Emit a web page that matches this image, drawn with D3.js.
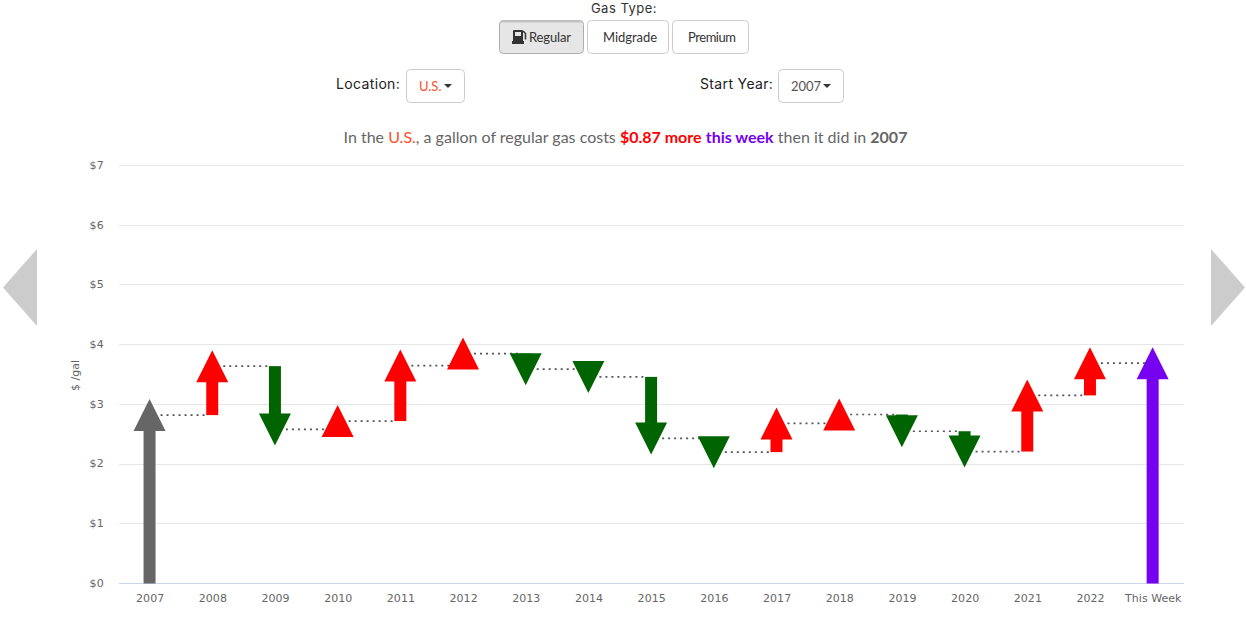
<!DOCTYPE html>
<html>
<head>
<meta charset="utf-8">
<script src="https://cdnjs.cloudflare.com/ajax/libs/d3/7.8.5/d3.min.js"></script>
<style>
html, body { margin: 0; padding: 0; background: #fff; overflow: hidden; }
svg { display: block; }
text { font-family: "Open Sans", sans-serif; }
</style>
</head>
<body>
<svg id="chart"></svg>
<script>
var years = ["2007","2008","2009","2010","2011","2012","2013","2014","2015","2016","2017","2018","2019","2020","2021","2022","This Week"];
var prices = [2.82,3.64,2.58,2.72,3.65,3.85,3.59,3.46,2.43,2.20,2.68,2.83,2.55,2.21,3.15,3.69,3.69];
var yTicks = [0,1,2,3,4,5,6,7];

var screen = {width: 1246, height: 638};
var margins = {top: 165.5, right: 62, bottom: 54.5, left: 119};
var width = screen.width - margins.left - margins.right;
var height = screen.height - margins.top - margins.bottom;

var svg = d3.select("#chart").attr("width", screen.width).attr("height", screen.height);

// controls at the top
var addButton = function(x, y, w, h, active)
{
    svg.append("rect")
        .attr("x", x + 0.5).attr("y", y + 0.5)
        .attr("width", w - 1).attr("height", h - 1)
        .attr("rx", 4)
        .attr("fill", active ? "#e6e6e6" : "#fff")
        .attr("stroke", active ? "#adadad" : "#ccc");
    if (active)
    {
        svg.append("path")
            .attr("d", "M" + (x + 2) + "," + (y + 1.5) + "h" + (w - 4))
            .attr("stroke", "#c4c4c4")
            .attr("stroke-width", 2);
    }
}
var addText = function(txt, x, y, size, color, anchor, family)
{
    return svg.append("text")
        .attr("x", x).attr("y", y)
        .attr("font-size", size)
        .attr("fill", color)
        .attr("text-anchor", anchor || "start")
        .style("font-family", family || null)
        .text(txt);
}

addText("Gas Type:", 624, 12.5, 13, "#333", "middle", "Inter").style("letter-spacing", "0.5px");
addButton(499, 20, 85, 34, true);
addButton(587, 20, 82, 34, false);
addButton(672, 20, 77, 34, false);
addText("Regular", 529, 42, 13, "#333", "start", "Lato").attr("textLength", 42);
addText("Midgrade", 630, 42, 13, "#333", "middle", "Lato").attr("textLength", 54);
addText("Premium", 712, 42, 13, "#333", "middle", "Lato").attr("textLength", 48);

// pump icon
svg.append("path")
    .attr("fill-rule", "evenodd")
    .attr("d", "M514 30h8a1 1 0 0 1 1 1v10h-10v-10a1 1 0 0 1 1-1z M515 32v4h6v-4z M512 41h12v3h-12z")
    .attr("fill", "#333");
svg.append("path")
    .attr("d", "M523 31l2.5 2.5v6")
    .attr("fill", "none")
    .attr("stroke", "#333")
    .attr("stroke-width", 1.5);

addText("Location:", 336, 89, 14, "#222", "start", "Inter").style("letter-spacing", "0.35px");
addButton(406, 69, 59, 34, false);
addText("U.S.", 419, 91, 13, "#ff4f26", "start", "Lato");
addText("Start Year:", 700, 89, 14, "#222", "start", "Inter").style("letter-spacing", "0.35px");
addButton(778, 69, 66, 34, false);
addText("2007", 791, 91, 13, "#555", "start", "Lato");

[448, 827].forEach(function(cx)
{
    svg.append("path")
        .attr("d", "M-4,-2L4,-2L0,2Z")
        .attr("transform", "translate(" + cx + ",86)")
        .attr("fill", "#333");
});

// headline
var head = svg.append("text")
    .attr("x", 625.5).attr("y", 143)
    .attr("text-anchor", "middle")
    .attr("font-size", 16)
    .style("font-family", "Lato")
    .attr("fill", "#666");
head.append("tspan").text("In the ");
head.append("tspan").attr("fill", "#ff4f26").text("U.S.");
head.append("tspan").text(", a gallon of regular gas costs ");
head.append("tspan").attr("fill", "#f00").attr("font-weight", 700).text("$0.87 more");
head.append("tspan").text(" ");
head.append("tspan").attr("fill", "#7600f0").attr("font-weight", 700).text("this week");
head.append("tspan").text(" then it did in ");
head.append("tspan").attr("font-weight", 700).text("2007");

// side arrows
svg.append("path").attr("d", "M37,249L37,326L3,287.5Z").attr("fill", "#ccc");
svg.append("path").attr("d", "M1211,249L1211,326L1245,287.5Z").attr("fill", "#ccc");

var xScale = d3.scaleBand().domain(years).range([-0.8, width]);
var yScale = d3.scaleLinear().domain([0, 7]).range([height, 0]);

var g = svg.append("g")
    .attr("transform", "translate(" + margins.left + "," + margins.top + ")");

var yAxis = d3.axisLeft(yScale)
    .tickValues(yTicks)
    .tickSize(0)
    .tickPadding(15)
    .tickFormat(function(d){return "$" + d});
g.append("g")
    .selectAll("line")
    .data(yTicks)
    .enter()
    .append("line")
    .attr("x1", 0).attr("x2", width)
    .attr("y1", function(d){return yScale(d)})
    .attr("y2", function(d){return yScale(d)})
    .attr("shape-rendering", "crispEdges")
    .attr("stroke", function(d){return d == 0 ? "#ccd6eb" : "#e6e6e6"});

var yG = g.append("g").call(yAxis);
yG.select(".domain").remove();
yG.selectAll("text").attr("font-size", 11).attr("fill", "#666").attr("dy", "0.26em").style("font-family", "DejaVu Sans").style("letter-spacing", "0.2px");

var xAxis = d3.axisBottom(xScale).tickSize(0).tickPadding(11);
var xG = g.append("g").attr("transform", "translate(0," + height + ")").call(xAxis);
xG.select(".domain").remove();
xG.selectAll("text").attr("font-size", 11).attr("fill", "#666").attr("dx", 0.6).style("font-family", "DejaVu Sans").style("letter-spacing", "0.05px");

g.append("text")
    .attr("transform", "translate(-40," + (yScale(3.5) + 1) + ") rotate(-90)")
    .attr("text-anchor", "middle")
    .attr("font-size", 11)
    .attr("fill", "#666")
    .style("font-family", "DejaVu Sans")
    .text("$ /gal");

var xPos = function(i){return xScale(years[i]) + xScale.bandwidth() / 2};

// dotted connectors
g.append("g").selectAll("line")
    .data(prices.slice(0, -1))
    .enter()
    .append("line")
    .attr("x1", function(d, i){return xPos(i) + 11})
    .attr("x2", function(d, i){return xPos(i + 1) - 7})
    .attr("y1", function(d){return yScale(d)})
    .attr("y2", function(d){return yScale(d)})
    .attr("stroke", "#555")
    .attr("stroke-width", 1.7)
    .attr("stroke-dasharray", "2 4");

var colorFor = function(i)
{
    if (i == 0) return "#666";
    if (i == years.length - 1) return "#7600f0";
    return prices[i] >= prices[i - 1] ? "#f00" : "#006400";
}
var startFor = function(i)
{
    if (i == 0 || i == years.length - 1) return 0;
    return prices[i - 1];
}

var marks = g.append("g").selectAll("g")
    .data(prices)
    .enter()
    .append("g");

marks.append("line")
    .attr("x1", function(d, i){return xPos(i)})
    .attr("x2", function(d, i){return xPos(i)})
    .attr("y1", function(d, i){return yScale(startFor(i))})
    .attr("y2", function(d){return yScale(d)})
    .attr("stroke", function(d, i){return colorFor(i)})
    .attr("stroke-width", 12);

marks.append("path")
    .attr("d", function(d, i)
    {
        var up = d >= startFor(i);
        var tip = up ? -16 : 16;
        return "M-16," + (-tip) + "L16," + (-tip) + "L0," + tip + "Z";
    })
    .attr("transform", function(d, i){return "translate(" + xPos(i) + "," + yScale(d) + ")"})
    .attr("fill", function(d, i){return colorFor(i)});
</script>
</body>
</html>
